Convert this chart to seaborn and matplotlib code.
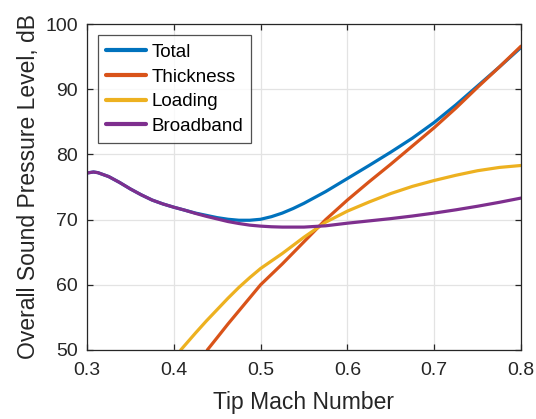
import matplotlib
matplotlib.use("Agg")
import matplotlib.pyplot as plt
import pandas as pd
import seaborn as sns

# Data (tip Mach number vs OASPL in dB)
mach = [0.300, 0.3075, 0.3125, 0.325, 0.3375, 0.350, 0.3625, 0.375, 0.3875, 0.400, 0.4125,
        0.425, 0.4375, 0.450, 0.4625, 0.475, 0.4875, 0.500, 0.5125, 0.525, 0.5375,
        0.550, 0.5625, 0.575, 0.600, 0.625, 0.650, 0.675, 0.700, 0.725, 0.750,
        0.775, 0.800]
total = [77.15, 77.3, 77.2, 76.6, 75.7, 74.7, 73.8, 73.0, 72.4, 71.9, 71.45,
         71.0, 70.65, 70.3, 70.05, 69.9, 69.9, 70.05, 70.45, 71.0, 71.7,
         72.5, 73.4, 74.3, 76.3, 78.3, 80.35, 82.5, 84.9, 87.6, 90.5,
         93.4, 96.4]
broadband = [77.15, 77.3, 77.2, 76.6, 75.7, 74.7, 73.8, 73.0, 72.4, 71.9, 71.45,
             70.95, 70.5, 70.1, 69.7, 69.4, 69.15, 69.0, 68.9, 68.85, 68.85,
             68.85, 68.95, 69.05, 69.45, 69.8, 70.15, 70.55, 71.0, 71.5, 72.05,
             72.65, 73.3]

mach_thick = [0.4386, 0.450, 0.4625, 0.475, 0.4875, 0.500, 0.525, 0.550, 0.575,
              0.600, 0.625, 0.650, 0.675, 0.700, 0.725, 0.750, 0.775, 0.800]
thickness = [50.0, 51.9, 54.0, 56.0, 58.0, 60.0, 63.2, 66.6, 70.0,
             73.0, 75.8, 78.5, 81.3, 84.1, 87.1, 90.3, 93.4, 96.6]

mach_load = [0.408, 0.425, 0.4375, 0.450, 0.4625, 0.475, 0.4875, 0.500, 0.525,
             0.550, 0.575, 0.600, 0.625, 0.650, 0.675, 0.700, 0.725, 0.750,
             0.775, 0.800]
loading = [50.0, 52.6, 54.45, 56.2, 57.95, 59.6, 61.1, 62.5, 64.8,
           67.3, 69.6, 71.3, 72.7, 74.0, 75.1, 76.0, 76.8, 77.5,
           78.0, 78.3]

series = ["Total", "Thickness", "Loading", "Broadband"]
colors = ["#0072BD", "#D95319", "#EDB120", "#7E2F8E"]

df = pd.concat([
    pd.DataFrame({"mach": mach, "spl": total, "name": "Total"}),
    pd.DataFrame({"mach": mach_thick, "spl": thickness, "name": "Thickness"}),
    pd.DataFrame({"mach": mach_load, "spl": loading, "name": "Loading"}),
    pd.DataFrame({"mach": mach, "spl": broadband, "name": "Broadband"}),
])

sns.set_theme(style="white")
plt.rcParams["font.family"] = ["Liberation Sans", "DejaVu Sans"]
dark = "#262626"

fig = plt.figure(figsize=(5.36, 4.19), dpi=100)
ax = fig.add_axes([0.1623, 0.1647, 0.8097, 0.778])

sns.lineplot(data=df, x="mach", y="spl", hue="name", hue_order=series,
             palette=colors, sort=False, linewidth=2.3, ax=ax)

ax.set_xlim(0.3, 0.8)
ax.set_ylim(50, 100)
ax.set_xticks([0.3, 0.4, 0.5, 0.6, 0.7, 0.8])
ax.set_xticklabels(["0.3", "0.4", "0.5", "0.6", "0.7", "0.8"])
ax.set_yticks([50, 60, 70, 80, 90, 100])
ax.grid(True, color="#e3e3e3", linewidth=0.9)
ax.set_axisbelow(True)
for s in ax.spines.values():
    s.set_color(dark)
    s.set_linewidth(0.9)
ax.tick_params(direction="in", length=4, width=0.9, colors=dark, labelsize=14,
               top=True, right=True, bottom=True, left=True)
ax.tick_params(axis="x", pad=9)
ax.tick_params(axis="y", pad=6.5)
ax.set_xlabel("Tip Mach Number", fontsize=16.5, color=dark, labelpad=8)
ax.set_ylabel("Overall Sound Pressure Level, dB", fontsize=16.5, color=dark, labelpad=4)

leg = ax.legend(loc="upper left", bbox_to_anchor=(0.025, 0.965), fontsize=13.5,
                frameon=True, fancybox=False, handlelength=2.1, handletextpad=0.3,
                borderpad=0.45, labelspacing=0.4, borderaxespad=0)
leg.get_frame().set_edgecolor(dark)
leg.get_frame().set_linewidth(0.9)
for line in leg.get_lines():
    line.set_linewidth(3)
for t in leg.get_texts():
    t.set_color("black")

fig.savefig("out.png", dpi=100)
